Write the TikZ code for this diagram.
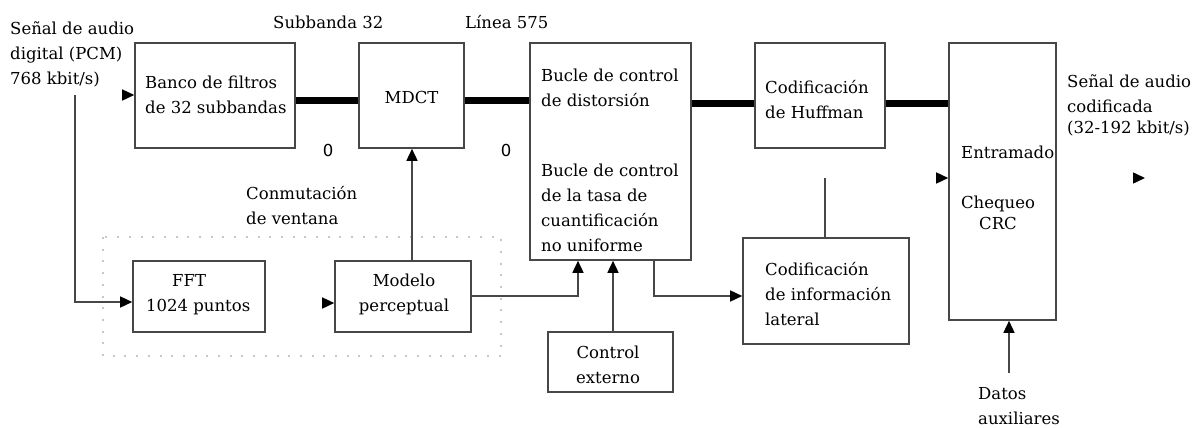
\documentclass[tikz,border=0pt]{standalone}
\usepackage{fontspec}
\setmainfont{DejaVu Serif}
\newfontfamily\digitfont{DejaVu Sans}
\usetikzlibrary{arrows.meta}
\begin{document}
\begin{tikzpicture}[x=1pt,y=-1pt,
  every node/.style={font=\fontsize{16.5}{25}\selectfont, inner sep=0pt, text=black},
  box/.style={draw=black!72, line width=1.6pt, fill=white, rectangle},
  txt/.style={align=left, anchor=west},
  bus/.style={line width=7pt, draw=black},
  link/.style={draw=black!72, line width=1.5pt},
  tip/.style={-{Triangle[length=12pt,width=11pt,color=black,fill=black]}},
  ghost/.style={draw=white, line width=1.5pt, -{Triangle[length=12pt,width=11pt,color=black,fill=black]}},
  zero/.style={font=\digitfont\fontsize{16.5}{20}\selectfont},
  group/.style={draw=black!22, line width=2pt, dash pattern=on 2pt off 9.7pt}
]
\useasboundingbox[fill=white] (0,0) rectangle (1199,428);

% window-switching group
\draw[group] (103,237) rectangle (501,356);

% blocks
\node[box, minimum width=160pt, minimum height=105pt] (banco) at (215,95.5) {};
\node[box, minimum width=105pt, minimum height=105pt] (mdct) at (411.5,95.5) {};
\node[box, minimum width=161pt, minimum height=217pt] (bucle) at (610.5,151.5) {};
\node[box, minimum width=130pt, minimum height=105pt] (huff) at (820,95.5) {};
\node[box, minimum width=107pt, minimum height=277pt] (entr) at (1002.5,181.5) {};
\node[box, minimum width=132pt, minimum height=71pt] (fft) at (199,296.5) {};
\node[box, minimum width=136pt, minimum height=71pt] (modelo) at (403,296.5) {};
\node[box, minimum width=166pt, minimum height=106pt] (lateral) at (826,291) {};
\node[box, minimum width=125pt, minimum height=60pt] (ctrl) at (610.5,362) {};

% free ends of connectors
\coordinate (in) at (12,95);
\coordinate (branch) at (75,95);
\coordinate (side) at (825,178);
\coordinate (frame) at (925,178);
\coordinate (out) at (1145,178);
\coordinate (aux) at (1009,373);

% main data path
\draw[bus] (banco.east |- 0,100) -- (mdct.west |- 0,100);
\draw[bus] (mdct.east |- 0,100) -- (bucle.west |- 0,100);
\draw[bus] (bucle.east |- 0,103) -- (huff.west |- 0,103);
\draw[bus] (huff.east |- 0,103) -- (entr.west |- 0,103);

% connectors
\draw[ghost] (in) -- (in -| banco.west);
\draw[link, tip] (branch) |- (fft.west |- 0,302);
\draw[ghost] (fft.east |- 0,303) -- (modelo.west |- 0,303);
\draw[link, tip] (modelo.north -| 412,0) -- (mdct.south -| 412,0);
\draw[link, tip] (modelo.east |- 0,296) -| (bucle.south -| 578,0);
\draw[link, tip] (ctrl.north -| 613,0) -- (bucle.south -| 613,0);
\draw[link, tip] (bucle.south -| 654,0) |- (lateral.west |- 0,296);
\draw[link] (side) -- (side |- lateral.north);
\draw[ghost] (frame) -- (frame -| entr.west);
\draw[ghost] (entr.east |- out) -- (out);
\draw[link, tip] (aux) -- (aux |- entr.south);

% labels
\node[txt] (inT) at (10,54) {Señal de audio\\digital (PCM)\\768 kbit/s)};
\node[txt] (subT) at (273,22) {Subbanda 32};
\node[txt] (linT) at (465,22) {Línea 575};
\node[txt] (bancoT) at (145,94.5) {Banco de filtros\\de 32 subbandas};
\node (mdctT) at (411.5,97) {MDCT};
\node[txt] (bucleA) at (541,87.5) {Bucle de control\\de distorsión};
\node[txt] (bucleB) at (541,207.5) {Bucle de control\\de la tasa de\\cuantificación\\no uniforme};
\node[txt] (huffT) at (765,99.5) {Codificación\\de Huffman};
\node[txt] (entrT) at (961,152) {Entramado};
\node[align=center] (crcT) at (998,212.5) {Chequeo\\[-4pt]CRC};
\node[txt] (outT) at (1067,105) {Señal de audio\\codificada\\[-4pt](32-192 kbit/s)};
\node[zero] (z1) at (328,150) {0};
\node[zero] (z2) at (506,150) {0};
\node[txt] (conT) at (246,205.5) {Conmutación\\de ventana};
\node[txt] (fftT) at (146,294.5) {\hspace*{26pt}FFT\\1024 puntos};
\node[align=center] (modT) at (404,294.5) {Modelo\\perceptual};
\node[txt] (latT) at (765,294.5) {Codificación\\de información\\lateral};
\node[align=center] (ctrlT) at (608,364.5) {Control\\externo};
\node[txt] (datT) at (978,406.5) {Datos\\auxiliares};
\end{tikzpicture}
\end{document}
